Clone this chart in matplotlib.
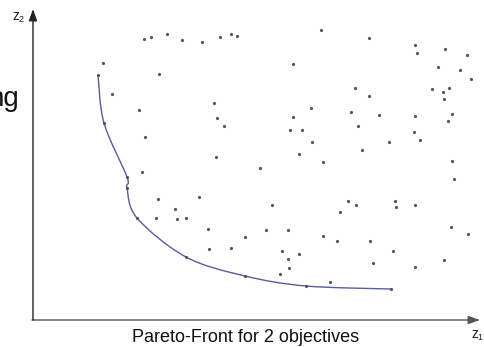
import matplotlib
matplotlib.use("Agg")
import matplotlib.pyplot as plt
from matplotlib.path import Path
from matplotlib.patches import PathPatch
import numpy as np

plt.rcParams['font.family'] = ['Liberation Sans', 'DejaVu Sans']

# dominated solutions (objective z1, objective z2)
z1_points = [111, 118, 134, 149, 169, 187, 198, 204, 288, 336, 382, 384, 412, 434,
             405, 427, 438, 322, 399, 410, 416, 411, 336, 318, 346, 382, 419,
             70, 79, 106, 126, 260, 181, 184, 278, 260,
             112, 183, 109, 125, 166, 142, 123, 144, 153,
             191, 227, 239, 257, 269, 279, 266, 290, 315, 307,
             415, 325, 381, 387, 356, 329, 419, 421, 323, 362, 363, 382,
             175, 212, 176, 198,
             233, 255, 290, 304, 337, 418, 435, 249, 266, 255, 256, 360, 340,
             382, 411, 247, 297]
z2_points = [281, 283, 286, 280, 278, 283, 286, 284, 290, 282, 275, 267, 271, 265,
             253, 250, 241, 232, 231, 228, 232, 221, 224, 208, 205, 204, 206,
             257, 226, 210, 246, 256, 217, 202, 212, 203,
             183, 163, 148, 121, 123, 111, 102, 101, 102,
             194, 152, 115, 190, 190, 178, 166, 158, 119, 108,
             199, 194, 188, 180, 178, 170, 159, 141, 115, 119, 113, 115,
             91, 83, 71, 72,
             90, 90, 84, 79, 79, 93, 86, 69, 66, 61, 52, 69, 57,
             53, 60, 46, 38]

# Pareto-optimal solutions
pareto_z1 = [65, 71, 94, 94, 104, 153, 212, 273, 358]
pareto_z2 = [245, 197, 143, 132, 102, 63, 44, 34, 31]

title = "Pareto-Front for 2 objectives"

fig = plt.figure(figsize=(4.84, 3.47), dpi=100)
ax = fig.add_axes([0, 0, 1, 1])
ax.set_xlim(-33, 451)
ax.set_ylim(-27, 320)
ax.axis('off')

# smooth Pareto front through the Pareto points (Catmull-Rom -> cubic Bezier)
P = np.column_stack([pareto_z1, pareto_z2]).astype(float)
Pe = np.vstack([P[0], P, P[-1]])
verts = [tuple(P[0])]
codes = [Path.MOVETO]
for i in range(1, len(Pe) - 2):
    p0, p1, p2, p3 = Pe[i - 1], Pe[i], Pe[i + 1], Pe[i + 2]
    c1 = p1 + (p2 - p0) / 6.0
    c2 = p2 - (p3 - p1) / 6.0
    verts += [tuple(c1), tuple(c2), tuple(p2)]
    codes += [Path.CURVE4] * 3
ax.add_patch(PathPatch(Path(verts, codes), facecolor='none',
                       edgecolor='#5a5aa6', lw=1.0, zorder=2))

ax.plot(z1_points, z2_points, 'o', ms=2.3, color='#555555', mec='none', zorder=3)
ax.plot(pareto_z1, pareto_z2, 'o', ms=2.3, color='#555555', mec='none', zorder=3)

# axes arrows
ax.annotate('', xy=(447, 0), xytext=(-1, 0),
            arrowprops=dict(arrowstyle='-|>,head_length=0.7,head_width=0.25',
                            color='#555555', lw=1.0, shrinkA=0, shrinkB=0,
                            mutation_scale=10))
ax.annotate('', xy=(0, 311), xytext=(0, 0),
            arrowprops=dict(arrowstyle='-|>,head_length=0.7,head_width=0.25',
                            color='#222222', lw=1.0, shrinkA=0, shrinkB=0,
                            mutation_scale=10))

# labels
ax.text(-20.5, 300, 'z', fontsize=10, ha='left', va='baseline', color='#222222')
ax.text(-14, 298.5, '2', fontsize=6.5, ha='left', va='baseline', color='#222222')
ax.text(438, -18, 'z', fontsize=10, ha='left', va='baseline', color='#222222')
ax.text(444.5, -19.5, '1', fontsize=6.5, ha='left', va='baseline', color='#222222')
ax.text(213, -22, title, fontsize=13, ha='center', va='baseline', color='#111111')
ax.text(-14.5, 214, 'ng', fontsize=20, ha='right', va='baseline', color='#111111')

fig.savefig('out.png', dpi=100)
